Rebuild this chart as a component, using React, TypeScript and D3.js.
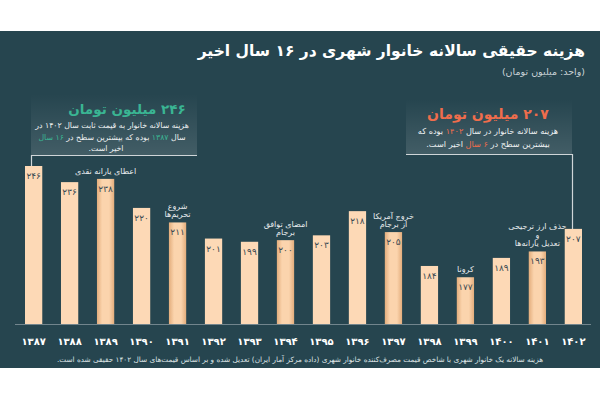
import React from "react";
import { scaleBand, scaleLinear } from "d3";

// urban household real annual spending (million toman), 1387-1402
const years = [1387, 1388, 1389, 1390, 1391, 1392, 1393, 1394, 1395, 1396, 1397, 1398, 1399, 1400, 1401, 1402];
const spending = [246, 236, 238, 220, 211, 201, 199, 200, 203, 218, 205, 184, 177, 189, 193, 207];

// events written above some bars
const eventYears = [1389, 1391, 1394, 1397, 1399, 1401];
const eventLabels = [
  ["اعطای یارانه نقدی"],
  ["شروع", "تحریم‌ها"],
  ["امضای توافق", "برجام"],
  ["خروج آمریکا", "از برجام"],
  ["کرونا"],
  ["حذف ارز ترجیحی", "و", "تعدیل یارانه‌ها"],
];

const title = "هزینه حقیقی سالانه خانوار شهری در ۱۶ سال اخیر";
const subtitle = "(واحد: میلیون تومان)";
const footnote =
  "هزینه سالانه یک خانوار شهری با شاخص قیمت مصرف‌کننده خانوار شهری (داده مرکز آمار ایران) تعدیل شده و بر اساس قیمت‌های سال ۱۴۰۲ حقیقی شده است.";

const width = 600;
const height = 400;
const panelTop = 31;
const panelBottom = 368;
const baseline = 324;

const bg = "#26454f";
const barColor = "#fdd9b6";
const teal = "#3ab593";
const orange = "#f06d4c";
const font = "'DejaVu Sans', sans-serif";

const fa = (v: number | string) => String(v).replace(/\d/g, (d) => "۰۱۲۳۴۵۶۷۸۹"[+d]);

const App = () => {
  const x = scaleBand<number>()
    .domain(years)
    .range([25, 582])
    .paddingInner(0.52)
    .paddingOuter(0);

  const y = scaleLinear().domain([148, 246]).range([baseline, 166]);

  const first = years[0];
  const last = years[years.length - 1];
  const firstTop = y(spending[0]);
  const lastTop = y(spending[spending.length - 1]);

  // rtl text: anchor "start" sits on the right edge
  return (
    <div style={{ position: "absolute", left: 0, top: 0 }}>
      <svg width={width} height={height} style={{ display: "block", fontFamily: font }}>
        <defs>
          <linearGradient id="hl" x1="0" x2="1" y1="0" y2="0">
            <stop offset="0" stopColor="#e3ad7c" />
            <stop offset="0.3" stopColor="#fbd4ad" />
            <stop offset="0.7" stopColor="#fbd4ad" />
            <stop offset="1" stopColor="#e3ad7c" />
          </linearGradient>
          <linearGradient id="box" x1="0" x2="0" y1="0" y2="1">
            <stop offset="0" stopColor="#ffffff" stopOpacity="0" />
            <stop offset="1" stopColor="#ffffff" stopOpacity="0.13" />
          </linearGradient>
        </defs>
        <rect width={width} height={height} fill="#fff" />
        <rect y={panelTop} width={width} height={panelBottom - panelTop} fill={bg} />

        <text x={585} y={56} fill="#fff" fontSize={15.5} fontWeight="bold" textAnchor="start" direction="rtl">
          {title}
        </text>
        <text x={585} y={75} fill="#c9d2d6" fontSize={9.5} textAnchor="start" direction="rtl">
          {subtitle}
        </text>

        {/* left callout */}
        <rect x={31} y={94} width={166} height={61} fill="url(#box)" />
        <text x={127} y={114} fill={teal} fontSize={13.5} fontWeight="bold" textAnchor="middle" direction="rtl">
          {fa(spending[0])} میلیون تومان
        </text>
        <g fill="#eef1f2" fontSize={7.8} textAnchor="middle">
          <text x={112} y={128} direction="rtl">هزینه سالانه خانوار به قیمت ثابت سال ۱۴۰۲ در</text>
          <text x={112} y={140} direction="rtl">
            سال <tspan fill={teal}>{fa(first)}</tspan> بوده که بیشترین سطح در <tspan fill={teal}>۱۶ سال</tspan>
          </text>
          <text x={106} y={151} direction="rtl">اخیر است.</text>
        </g>
        <path d={`M197,155.5H31.5V${firstTop}`} fill="none" stroke="#cfd5d8" strokeWidth={1.2} />

        {/* right callout */}
        <rect x={406} y={99} width={166} height={55} fill="url(#box)" />
        <text x={488} y={119} fill={orange} fontSize={14} fontWeight="bold" textAnchor="middle" direction="rtl">
          {fa(spending[spending.length - 1])} میلیون تومان
        </text>
        <g fill="#eef1f2" fontSize={8.2} textAnchor="middle">
          <text x={488} y={134} direction="rtl">
            هزینه سالانه خانوار در سال <tspan fill={orange}>{fa(last)}</tspan> بوده که
          </text>
          <text x={488} y={147} direction="rtl">
            بیشترین سطح در <tspan fill={orange}>۶ سال</tspan> اخیر است.
          </text>
        </g>
        <path d={`M406,154.5H572.5V${lastTop}`} fill="none" stroke="#cfd5d8" strokeWidth={1.2} />

        {/* bars */}
        {years.map((yr, i) => {
          const top = y(spending[i]);
          const hl = eventYears.includes(yr);
          return (
            <g key={yr}>
              <rect
                x={x(yr)}
                y={top}
                width={x.bandwidth()}
                height={baseline - top}
                fill={hl ? "url(#hl)" : barColor}
              />
              <text
                x={(x(yr) ?? 0) + x.bandwidth() / 2}
                y={top + 13}
                fill="#3b4a52"
                fontSize={9}
                textAnchor="middle"
              >
                {fa(spending[i])}
              </text>
            </g>
          );
        })}

        {eventYears.map((yr, i) => {
          const top = y(spending[years.indexOf(yr)]);
          const lines = eventLabels[i];
          const cx = (x(yr) ?? 0) + x.bandwidth() / 2;
          return (
            <g key={yr} fill="#e8ecee" fontSize={8} textAnchor="middle">
              {lines.map((l, j) => (
                <text key={j} x={cx} y={top - 5 - (lines.length - 1 - j) * 8.6} direction="rtl">
                  {l}
                </text>
              ))}
            </g>
          );
        })}

        <line x1={15} x2={591} y1={baseline + 0.5} y2={baseline + 0.5} stroke="#72858d" strokeWidth={1} />

        {years.map((yr) => (
          <text
            key={yr}
            x={(x(yr) ?? 0) + x.bandwidth() / 2}
            y={345}
            fill="#fff"
            fontSize={10}
            fontWeight="bold"
            textAnchor="middle"
          >
            {fa(yr)}
          </text>
        ))}

        <text x={300} y={362} fill="#dde3e5" fontSize={7.3} textAnchor="middle" direction="rtl">
          {footnote}
        </text>
      </svg>
    </div>
  );
};

export default App;
